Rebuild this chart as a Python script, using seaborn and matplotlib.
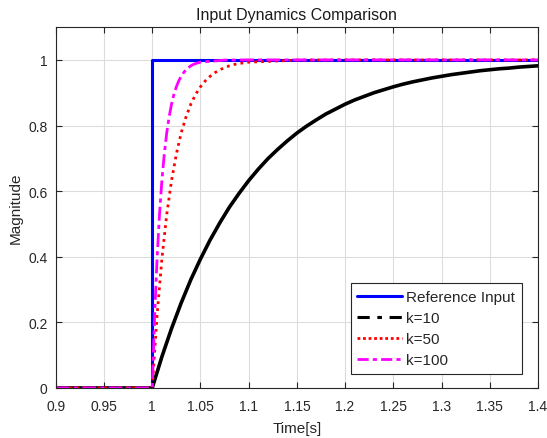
import numpy as np
import pandas as pd
import matplotlib
matplotlib.use("Agg")
import matplotlib.pyplot as plt
from matplotlib.lines import Line2D
import seaborn as sns

sns.set_style("white")
plt.rcParams['font.family'] = ['Liberation Sans', 'DejaVu Sans']

# Reference step input
t_ref = [0.9, 1.0, 1.0, 1.4]
y_ref = [0.0, 0.0, 1.0, 1.0]

# k=10 response (sampled every 0.01 s after the step)
t_k10 = [0.9, 0.95] + [round(1.0 + 0.01 * i, 3) for i in range(41)]
y_k10 = [0.0, 0.0,
         0.0, 0.095, 0.181, 0.259, 0.330, 0.393, 0.451, 0.503, 0.551, 0.593,
         0.632, 0.667, 0.699, 0.727, 0.753, 0.777, 0.798, 0.817, 0.835, 0.850,
         0.865, 0.878, 0.889, 0.900, 0.909, 0.918, 0.926, 0.933, 0.939, 0.945,
         0.950, 0.955, 0.959, 0.963, 0.967, 0.970, 0.973, 0.975, 0.978, 0.980,
         0.982]

# k=50 response (every 0.005 s up to 1.1)
t_k50 = [0.9, 0.95] + [round(1.0 + 0.005 * i, 4) for i in range(21)] + [1.15, 1.2, 1.3, 1.4]
y_k50 = [0.0, 0.0,
         0.0, 0.221, 0.393, 0.528, 0.632, 0.713, 0.777, 0.826, 0.865, 0.895,
         0.918, 0.936, 0.950, 0.961, 0.970, 0.976, 0.982, 0.986, 0.989, 0.991,
         0.993, 0.9994, 1.0, 1.0, 1.0]

# k=100 response (every 0.0025 s up to 1.05)
t_k100 = [0.9, 0.95] + [round(1.0 + 0.0025 * i, 5) for i in range(21)] + [1.075, 1.1, 1.2, 1.3, 1.4]
y_k100 = [0.0, 0.0,
          0.0, 0.221, 0.393, 0.528, 0.632, 0.713, 0.777, 0.826, 0.865, 0.895,
          0.918, 0.936, 0.950, 0.961, 0.970, 0.976, 0.982, 0.986, 0.989, 0.991,
          0.993, 0.9994, 1.0, 1.0, 1.0, 1.0]

x_ticks = [0.9, 0.95, 1.0, 1.05, 1.1, 1.15, 1.2, 1.25, 1.3, 1.35, 1.4]
x_tick_labels = ["0.9", "0.95", "1", "1.05", "1.1", "1.15", "1.2", "1.25", "1.3", "1.35", "1.4"]
y_ticks = [0, 0.2, 0.4, 0.6, 0.8, 1.0]
y_tick_labels = ["0", "0.2", "0.4", "0.6", "0.8", "1"]

fig = plt.figure(figsize=(5.47, 4.39), dpi=100)
ax = fig.add_axes([0.102, 0.114, 0.8815, 0.822])

sns.lineplot(x=t_ref, y=y_ref, ax=ax, color="#0000ff", lw=2.2, estimator=None, sort=False)
sns.lineplot(x=t_k10, y=y_k10, ax=ax, color="black", lw=2.6, estimator=None, sort=False)
sns.lineplot(x=t_k50, y=y_k50, ax=ax, color="#ff0000", lw=2.0, ls=(0, (1, 1.5)), estimator=None, sort=False)
sns.lineplot(x=t_k100, y=y_k100, ax=ax, color="#ff00ff", lw=2.0, ls=(0, (5, 1.5, 1.5, 1.5)), estimator=None, sort=False)

ax.set_xlim(0.9, 1.4)
ax.set_ylim(0, 1.1)
ax.set_xticks(x_ticks)
ax.set_xticklabels(x_tick_labels)
ax.set_yticks(y_ticks)
ax.set_yticklabels(y_tick_labels)
ax.grid(True, color="#dcdcdc", lw=0.8)
ax.tick_params(direction="in", length=4, labelsize=10, colors="#262626",
               top=True, right=True, bottom=True, left=True)
ax.tick_params(axis="x", pad=8)
ax.tick_params(axis="y", pad=6)
for s in ax.spines.values():
    s.set_color("#262626")
    s.set_linewidth(0.8)

ax.set_xlabel("Time[s]", fontsize=11, color="#262626", labelpad=6)
ax.set_ylabel("Magnitude", fontsize=11, color="#262626", labelpad=4)
ax.set_title("Input Dynamics Comparison", fontsize=11.5, color="#1a1a1a", pad=6)

handles = [
    Line2D([], [], color="#0000ff", lw=2.2),
    Line2D([], [], color="black", lw=2.2, ls=(0, (4, 2.5, 1.5, 2.5))),
    Line2D([], [], color="#ff0000", lw=2.0, ls=(0, (1, 1))),
    Line2D([], [], color="#ff00ff", lw=2.0, ls=(0, (4, 1.5, 1.5, 1.5))),
]
labels = ["Reference Input", "k=10", "k=50", "k=100"]
leg = ax.legend(handles, labels, loc="lower right", bbox_to_anchor=(0.967, 0.039),
                borderaxespad=0, fontsize=11, frameon=True, fancybox=False, framealpha=1,
                edgecolor="#262626", handlelength=2.9, handletextpad=0.3,
                borderpad=0.45, labelspacing=0.46)
leg.get_frame().set_linewidth(0.8)

fig.savefig("out.png", dpi=100)
